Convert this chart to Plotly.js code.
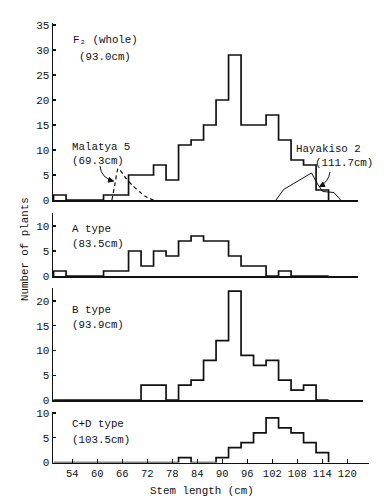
<!DOCTYPE html>
<html>
<head>
<meta charset="utf-8">
<script src="https://cdn.plot.ly/plotly-3.0.1.min.js"></script>
<style>html,body{margin:0;padding:0;background:#fff;}#chart{width:386px;height:503px;}</style>
</head>
<body>
<div id="chart"></div>
<script>
// ---- data ----
const binCenters = [51,54,57,60,63,66,69,72,75,78,81,84,87,90,93,96,99,102,105,108,111,114];
const f2Counts   = [1,0,0,0,1,1,5,5,7,4,11,12,15,20,29,15,15,17,12,8,7,2];
const aCounts    = [1,0,0,0,1,1,5,2,5,4,7,8,7,7,4,2,2,0,1,0,0,0];
const bCounts    = [0,0,0,0,0,0,0,3,3,0,3,4,8,12,22,9,7,8,4,2,3,0];
const cdCounts   = [0,0,0,0,0,0,0,0,0,0,1,0,0,1,3,4,6,9,7,6,4,2];
const binWidth = 3;

// parent distributions drawn in the F2 panel
const malatyaX = [63.5,64.3,65.0,65.8,67.0,68.6,70.2,71.6,73.5];
const malatyaY = [0,3.5,6.3,5.6,4.2,2.8,1.6,0.7,0];
const hayakisoX = [102.9,104.7,111.4,113.0,114.1,116.8,118.4];
const hayakisoY = [0,2.1,5.4,3.0,1.7,1.5,0];

const xTickVals = [54,60,66,72,78,84,90,96,102,108,114,120];
const f2Ticks = [0,5,10,15,20,25,30,35];
const aTicks = [0,5,10];
const bTicks = [0,5,10,15,20];
const cdTicks = [0,5,10];

// ---- layout helpers ----
const W=386, H=503, L=53, R=17, plotW=W-L-R;
const cmAt = px => 54 + (px-72.3)/4.167;
const f2At = py => (200-py)/5;
const pX = px => (px-L)/plotW;
const pY = py => 1 - py/H;
const FONT = "Liberation Mono, DejaVu Sans Mono, monospace";
const INK = "#111";

function stepXY(centers, counts){
  const x=[centers[0]-binWidth/2], y=[0];
  for(let i=0;i<centers.length;i++){ x.push(centers[i]-binWidth/2); y.push(counts[i]); }
  x.push(centers[centers.length-1]+binWidth/2); y.push(0);
  return {x,y};
}

const panels = [
  {counts:f2Counts, top:22.5, zero:200, ppu:5, right:358, ticks:f2Ticks},
  {counts:aCounts, top:213, zero:276, ppu:5, right:358, ticks:aTicks},
  {counts:bCounts, top:288, zero:400, ppu:4.95, right:363, ticks:bTicks},
  {counts:cdCounts, top:411.5, zero:462.5, ppu:4.95, right:369, ticks:cdTicks},
];

const traces=[]; const layout={
  width:W, height:H, margin:{l:L,r:R,t:0,b:0}, showlegend:false,
  paper_bgcolor:'#fff', plot_bgcolor:'#fff',
  font:{family:FONT,size:11,color:INK}, annotations:[], shapes:[]
};

panels.forEach((p,i)=>{
  const n = i===0?'':String(i+1);
  const s = stepXY(binCenters, p.counts);
  traces.push({x:s.x,y:s.y,type:'scatter',mode:'lines',line:{shape:'hv',color:INK,width:1.7},
    xaxis:'x'+n, yaxis:'y'+n, hoverinfo:'skip'});
  const last = i===panels.length-1;
  layout['xaxis'+n] = {
    domain:[0,pX(p.right)], range:[cmAt(L),cmAt(p.right)], anchor:'y'+n,
    showline:true, linecolor:INK, linewidth:1.6, showgrid:false, zeroline:false,
    tickvals:last?xTickVals:[], ticktext:last?xTickVals.map(String):[], showticklabels:last,
    ticks:last?'inside':'', ticklen:4, tickwidth:1.2, tickcolor:INK,
    tickfont:{family:FONT,size:10.5,color:INK}, fixedrange:true
  };
  layout['yaxis'+n] = {
    domain:[pY(p.zero),pY(p.top)], range:[0,(p.zero-p.top)/p.ppu], anchor:'x'+n,
    showline:true, linecolor:INK, linewidth:1.4, showgrid:false, zeroline:false,
    tickvals:p.ticks, ticks:'inside', ticklen:3, tickwidth:1.2, tickcolor:INK,
    tickfont:{family:FONT,size:11,color:INK}, fixedrange:true
  };
});

traces.push({x:malatyaX,y:malatyaY,type:'scatter',mode:'lines',
  line:{shape:'spline',smoothing:0.6,color:INK,width:1.2,dash:'4px,3px'},xaxis:'x',yaxis:'y',hoverinfo:'skip'});
traces.push({x:hayakisoX,y:hayakisoY,type:'scatter',mode:'lines',
  line:{color:INK,width:1},xaxis:'x',yaxis:'y',hoverinfo:'skip'});

// curved leader lines with arrowheads (pixel geometry -> F2 data coords)
function leader(s,c,e){
  layout.shapes.push({type:'path',xref:'x',yref:'y',
    path:`M ${cmAt(s[0])},${f2At(s[1])} Q ${cmAt(c[0])},${f2At(c[1])} ${cmAt(e[0])},${f2At(e[1])}`,
    line:{color:INK,width:1}});
  let dx=e[0]-c[0], dy=e[1]-c[1]; const d=Math.hypot(dx,dy); dx/=d; dy/=d;
  const len=5.5, a=0.45;
  const p1=[e[0]-len*(dx*Math.cos(a)-dy*Math.sin(a)), e[1]-len*(dx*Math.sin(a)+dy*Math.cos(a))];
  const p2=[e[0]-len*(dx*Math.cos(-a)-dy*Math.sin(-a)), e[1]-len*(dx*Math.sin(-a)+dy*Math.cos(-a))];
  layout.shapes.push({type:'path',xref:'x',yref:'y',
    path:`M ${cmAt(p1[0])},${f2At(p1[1])} L ${cmAt(e[0])},${f2At(e[1])} L ${cmAt(p2[0])},${f2At(p2[1])} Z`,
    line:{color:INK,width:1}, fillcolor:INK});
}
leader([100,166],[101,178],[113.5,181]);
leader([330,172],[328.5,182],[319.5,186.5]);

function label(text,px,py,opts={}){
  layout.annotations.push(Object.assign({xref:'paper',yref:'paper',x:pX(px),y:pY(py),
    xanchor:'left',yanchor:'middle',text:text,showarrow:false,borderpad:0,
    font:{family:FONT,size:10.8,color:INK}},opts));
}
label('F₂ (whole)',72,40);
label('(93.0cm)',77.5,56.5);
label('Malatya 5',70.5,146.5);
label('(69.3cm)',70.5,161.5);
label('Hayakiso 2',295,149);
label('(111.7cm)',314,162.5);
label('A type',70.5,229);
label('(83.5cm)',70.5,243.5);
label('B type',70.5,309.5);
label('(93.9cm)',70.5,324.5);
label('C+D type',70.5,424);
label('(103.5cm)',70.5,439.5);
label('Stem length (cm)',201.5,491,{xanchor:'center'});
label('Number of plants',25,249,{xanchor:'center',textangle:-90});

Plotly.newPlot('chart',traces,layout,{staticPlot:true,displayModeBar:false});
</script>
</body>
</html>
